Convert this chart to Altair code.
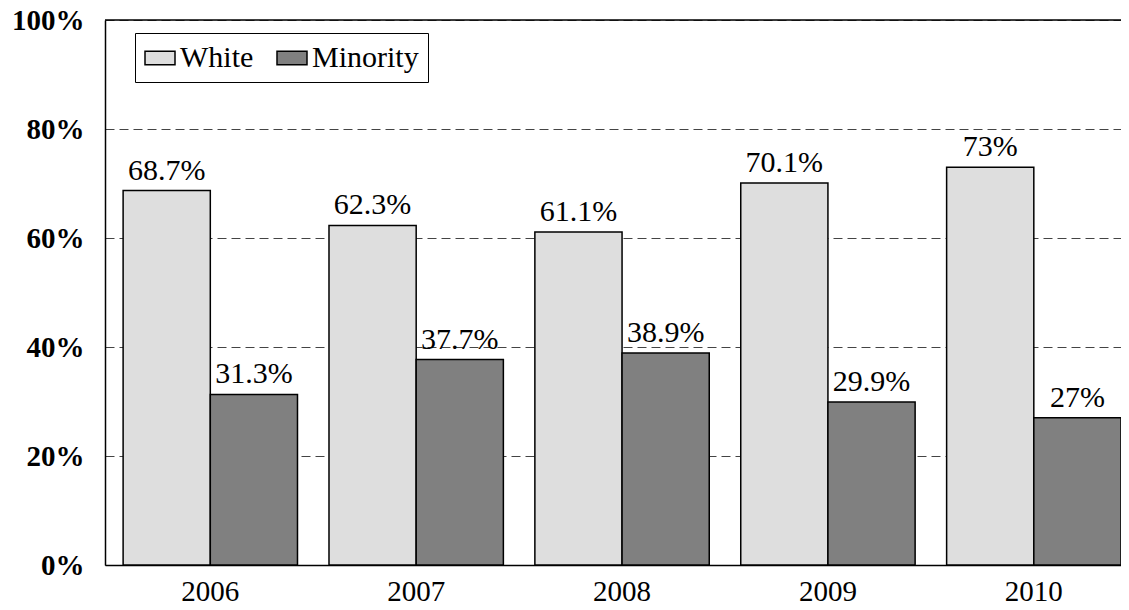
import altair as alt
import pandas as pd

years = ["2006", "2007", "2008", "2009", "2010"]
white = [68.7, 62.3, 61.1, 70.1, 73.0]
minority = [31.3, 37.7, 38.9, 29.9, 27.0]
white_labels = ["68.7%", "62.3%", "61.1%", "70.1%", "73%"]
minority_labels = ["31.3%", "37.7%", "38.9%", "29.9%", "27%"]
series = ["White", "Minority"]
y_ticks = [0, 20, 40, 60, 80, 100]

rows = []
for i, yr in enumerate(years):
    rows.append({"year": yr, "series": "White", "value": white[i], "label": white_labels[i]})
    rows.append({"year": yr, "series": "Minority", "value": minority[i], "label": minority_labels[i]})
df = pd.DataFrame(rows)

FONT = "Liberation Serif, Times New Roman, serif"
FS = 30
W, H = 1016, 545

x_enc = alt.X("year:N", sort=years,
              scale=alt.Scale(paddingInner=0.153, paddingOuter=0.044, align=1),
              axis=alt.Axis(title=None, labelAngle=0, ticks=False, domainColor="black",
                            domainWidth=1.5, labelFont=FONT, labelFontSize=29,
                            labelColor="black", labelPadding=12))
xoff = alt.XOffset("series:N", sort=series, scale=alt.Scale(paddingInner=0, paddingOuter=0))
y_enc = alt.Y("value:Q", scale=alt.Scale(domain=[0, 100]),
              axis=alt.Axis(values=y_ticks, labelExpr="datum.value + '%'", title=None,
                            ticks=False, grid=True, gridDash=[9, 5], gridColor="#444444",
                            gridWidth=1, domainColor="black", domainWidth=1.5,
                            labelFont=FONT, labelFontSize=29, labelFontWeight="bold",
                            labelColor="black", labelPadding=21))

base = alt.Chart(df)

bars = base.mark_bar(stroke="black", strokeWidth=1.5).encode(
    x=x_enc, xOffset=xoff, y=y_enc,
    color=alt.Color("series:N", sort=series,
                    scale=alt.Scale(domain=series, range=["#DEDEDE", "#808080"]),
                    legend=alt.Legend(title=None, orient="none", legendX=30, legendY=13,
                                      direction="horizontal", columns=2,
                                      strokeColor="black", fillColor="white", padding=9,
                                      symbolType="M-1,-0.45H1V0.45H-1Z", symbolSize=900,
                                      symbolStrokeColor="black", symbolStrokeWidth=1.5,
                                      symbolOpacity=1,
                                      labelFont=FONT, labelFontSize=FS, labelColor="black",
                                      labelOffset=4, columnPadding=20, labelLimit=300)),
)

labels = base.mark_text(font=FONT, fontSize=FS, color="black", baseline="alphabetic",
                        dy=-11).encode(
    x=x_enc, xOffset=xoff, y=y_enc, text="label:N")

top_df = pd.DataFrame({"value": [100]})
top_rule = alt.Chart(top_df).mark_rule(color="black", strokeWidth=1.5).encode(
    y=alt.Y("value:Q"), x=alt.value(0), x2=alt.value(W))

chart = alt.layer(bars, labels, top_rule).properties(
    width=W, height=H,
    autosize=alt.AutoSizeParams(type="none"),
    padding={"left": 97, "top": 12, "right": 0, "bottom": 43},
).configure_view(stroke=None).configure(background="white")

chart.save("out.html", embed_options={"renderer": "svg", "actions": False})
